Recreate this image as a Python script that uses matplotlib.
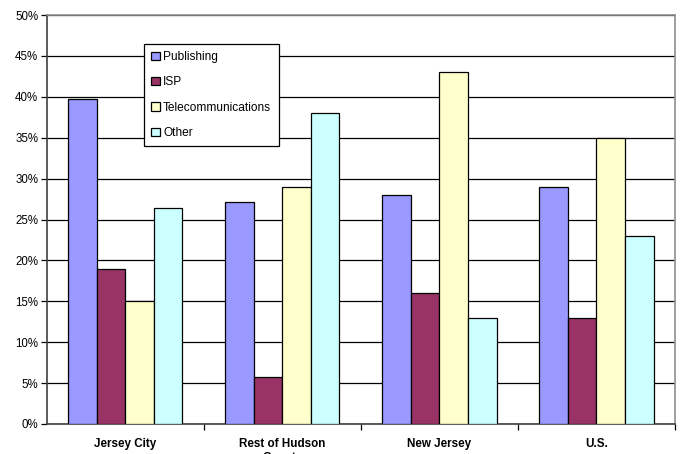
import matplotlib
matplotlib.use("Agg")
import matplotlib.pyplot as plt
import numpy as np
from matplotlib.ticker import MultipleLocator, FuncFormatter

categories = ["Jersey City", "Rest of Hudson\nCounty", "New Jersey", "U.S."]
series_names = ["Publishing", "ISP", "Telecommunications", "Other"]
publishing = [39.7, 27.1, 28.0, 29.0]
isp = [19.0, 5.7, 16.0, 13.0]
telecom = [15.0, 29.0, 43.0, 35.0]
other = [26.4, 38.0, 13.0, 23.0]
colors = ["#9999FF", "#993366", "#FFFFCC", "#CCFFFF"]

plt.rcParams["font.family"] = ["Liberation Sans", "DejaVu Sans"]

fig = plt.figure(figsize=(6.86, 4.54), dpi=100)
ax = fig.add_axes([46.7 / 686, 30 / 454, (675 - 46.7) / 686, (424 - 15) / 454])

x = np.arange(len(categories))
bar_w = 1 / 5.5
values = [publishing, isp, telecom, other]
for i, (vals, name, c) in enumerate(zip(values, series_names, colors)):
    ax.bar(x + (i - 1.5) * bar_w, vals, width=bar_w, color=c,
           edgecolor="black", linewidth=0.9, label=name, zorder=3)

ax.set_xlim(-0.5, len(categories) - 0.5)
ax.set_ylim(0, 50)
ax.yaxis.set_major_locator(MultipleLocator(5))
ax.yaxis.set_major_formatter(FuncFormatter(lambda v, p: f"{v:.0f}%"))
ax.yaxis.grid(True, color="black", linewidth=0.9, zorder=0)

ax.set_xticks(x)
ax.set_xticklabels(categories, fontweight="bold", fontsize=8.4)
ax.tick_params(axis="x", which="major", length=0, pad=10)
ax.set_xticks(np.arange(0.5, len(categories) - 0.5 + 0.01, 1), minor=True)
ax.tick_params(axis="x", which="minor", length=4, width=0.9, direction="out")
ax.tick_params(axis="y", length=4, width=0.9, direction="out", labelsize=8.3, pad=2)

for side in ["top", "right"]:
    ax.spines[side].set_color("#909090")
    ax.spines[side].set_linewidth(1.2)
for side in ["left", "bottom"]:
    ax.spines[side].set_color("#404040")
    ax.spines[side].set_linewidth(1.2)

leg = ax.legend(loc="upper left", bbox_to_anchor=(144 / 686, 1 - 43.5 / 454),
                bbox_transform=fig.transFigure, fontsize=8.6, frameon=True,
                fancybox=False, edgecolor="black", framealpha=1,
                handlelength=0.7, handleheight=0.7, handletextpad=0.28,
                labelspacing=1.12, borderpad=0.62, borderaxespad=0)
leg.get_frame().set_linewidth(0.9)
leg.set_zorder(5)

fig.savefig("out.png", dpi=100)
